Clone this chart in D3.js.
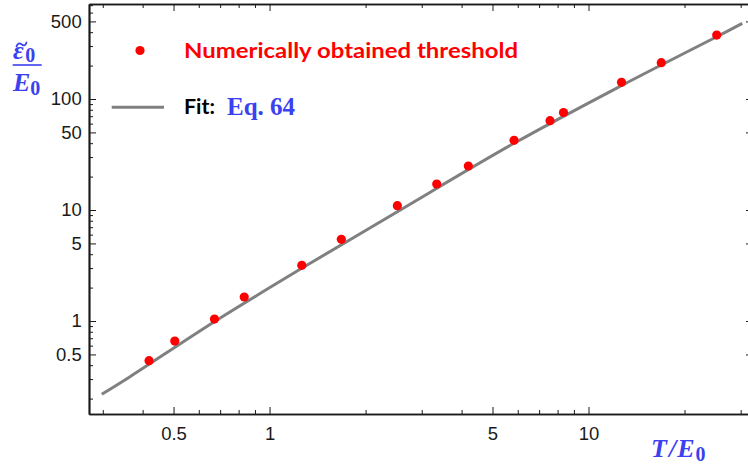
<!DOCTYPE html>
<html>
<head>
<meta charset="utf-8">
<script src="https://cdn.jsdelivr.net/npm/d3@7"></script>
<style>
  html, body { margin: 0; padding: 0; background: #fff; }
  svg { display: block; }
</style>
</head>
<body>
<svg id="chart" width="748" height="467"></svg>
<script>
// Threshold energy vs temperature (both in units of E0)
const thresholdT = [0.419, 0.5045, 0.672, 0.833, 1.262, 1.679, 2.516, 3.343, 4.200, 5.842, 7.575, 8.35, 12.69, 16.91, 25.23];
const thresholdE = [0.439, 0.660, 1.042, 1.645, 3.176, 5.445, 10.93, 17.15, 24.92, 42.46, 63.76, 75.6, 141.4, 212.3, 377];

// Fit curve (Eq. 64) sampled along T
const fitT = [0.2978, 0.3652, 0.671, 1.262, 2.516, 5.842, 12.67, 16.91, 25.23, 30.35];
const fitE = [0.2186, 0.3149, 0.9856, 2.984, 9.654, 39.9, 131.8, 202.4, 364, 480.8];

// Plot range and ticks
const xRange = [0.2716, 32.79];
const yRange = [0.1453, 717.6];
const xMajor = [0.5, 1, 5, 10];
const xMinor = [0.3, 0.4, 0.6, 0.7, 0.8, 0.9, 2, 3, 4, 6, 7, 8, 9, 20, 30];
const yMajor = [0.5, 1, 5, 10, 50, 100, 500];
const yMinor = [0.2, 0.3, 0.4, 0.6, 0.7, 0.8, 0.9, 2, 3, 4, 6, 7, 8, 9,
                20, 30, 40, 60, 70, 80, 90, 200, 300, 400, 600, 700];

const legendPoints = "Numerically obtained threshold";
const legendFit = "Fit:";
const legendEq = "Eq. 64";

const BLUE = "#3b40f0";
const RED = "#ff0000";
const GRAY = "#808080";
const AXIS = "#1a1a1a";

const svg = d3.select("#chart");
const plotLeft = 89, plotRight = 753, plotTop = 4, plotBottom = 414;

const x = d3.scaleLog().domain(xRange).range([plotLeft, plotRight]);
const y = d3.scaleLog().domain(yRange).range([plotBottom, plotTop]);

const fmt = d => String(d);
const MAJ = 7, MIN = 4;

function styleAxis(g) {
  g.select(".domain").attr("stroke", AXIS).attr("stroke-width", 1.7);
  g.selectAll(".tick line").attr("stroke", AXIS).attr("stroke-width", 1);
  g.selectAll(".tick text")
    .attr("fill", AXIS)
    .attr("font-family", "'Liberation Sans', Arial, sans-serif")
    .attr("font-size", 18.5);
}

// bottom axis with labels
svg.append("g").attr("transform", `translate(0,${plotBottom})`)
  .call(d3.axisBottom(x).tickValues(xMinor).tickSize(-MIN).tickSizeOuter(0).tickFormat(""))
  .call(styleAxis);
svg.append("g").attr("transform", `translate(0,${plotBottom})`)
  .call(d3.axisBottom(x).tickValues(xMajor).tickSize(-MAJ).tickSizeOuter(0).tickPadding(12.5).tickFormat(fmt))
  .call(styleAxis);
// top frame
svg.append("g").attr("transform", `translate(0,${plotTop})`)
  .call(d3.axisTop(x).tickValues(xMinor).tickSize(-MIN).tickSizeOuter(0).tickFormat(""))
  .call(styleAxis);
svg.append("g").attr("transform", `translate(0,${plotTop})`)
  .call(d3.axisTop(x).tickValues(xMajor).tickSize(-MAJ).tickSizeOuter(0).tickFormat(""))
  .call(styleAxis);
// left axis with labels
svg.append("g").attr("transform", `translate(${plotLeft},0)`)
  .call(d3.axisLeft(y).tickValues(yMinor).tickSize(-MIN).tickSizeOuter(0).tickFormat(""))
  .call(styleAxis);
svg.append("g").attr("transform", `translate(${plotLeft},0)`)
  .call(d3.axisLeft(y).tickValues(yMajor).tickSize(-MAJ).tickSizeOuter(0).tickPadding(7.3).tickFormat(fmt))
  .call(styleAxis);
// right frame
svg.append("g").attr("transform", `translate(${plotRight},0)`)
  .call(d3.axisRight(y).tickValues(yMinor).tickSize(-MIN).tickSizeOuter(0).tickFormat(""))
  .call(styleAxis);
svg.append("g").attr("transform", `translate(${plotRight},0)`)
  .call(d3.axisRight(y).tickValues(yMajor).tickSize(-MAJ).tickSizeOuter(0).tickFormat(""))
  .call(styleAxis);

// fit curve
const fitData = fitT.map((t, i) => [t, fitE[i]]);
const line = d3.line().x(d => x(d[0])).y(d => y(d[1])).curve(d3.curveCatmullRom.alpha(0.5));
svg.append("path")
  .datum(fitData)
  .attr("d", line)
  .attr("fill", "none")
  .attr("stroke", GRAY)
  .attr("stroke-width", 3);

// numerical thresholds
const pts = thresholdT.map((t, i) => [t, thresholdE[i]]);
svg.append("g").selectAll("circle")
  .data(pts).join("circle")
  .attr("cx", d => x(d[0]))
  .attr("cy", d => y(d[1]))
  .attr("r", 4.6)
  .attr("fill", RED);

// legend
const lg = svg.append("g");
lg.append("circle").attr("cx", 140).attr("cy", 50.5).attr("r", 4.6).attr("fill", RED);
lg.append("text").attr("x", 184).attr("y", 57.5)
  .attr("font-family", "Lato, 'Open Sans', sans-serif").attr("font-weight", "bold")
  .attr("font-size", 20).attr("fill", RED)
  .attr("textLength", 334).attr("lengthAdjust", "spacingAndGlyphs")
  .text(legendPoints);
lg.append("line").attr("x1", 111.7).attr("x2", 164).attr("y1", 107.3).attr("y2", 107.3)
  .attr("stroke", GRAY).attr("stroke-width", 3);
lg.append("text").attr("x", 184).attr("y", 114)
  .attr("font-family", "Lato, 'Open Sans', sans-serif").attr("font-weight", "bold")
  .attr("font-size", 20).attr("fill", "#000")
  .attr("textLength", 31).attr("lengthAdjust", "spacingAndGlyphs")
  .text(legendFit);
lg.append("text").attr("x", 227).attr("y", 115)
  .attr("font-family", "'Liberation Serif', 'Times New Roman', serif").attr("font-weight", "bold")
  .attr("font-size", 25).attr("fill", BLUE)
  .text(legendEq);

// y axis label: tilde-epsilon_0 over E_0
const serif = "'Liberation Serif', 'Times New Roman', serif";
const yl = svg.append("g").attr("fill", BLUE).attr("font-family", serif)
  .attr("font-weight", "bold").attr("font-style", "italic");
const num = yl.append("text").attr("x", 13).attr("y", 58.5).attr("font-size", 26);
num.append("tspan").text("ε");
num.append("tspan").attr("font-size", 20).attr("font-style", "normal").attr("dy", 3.5).attr("dx", 1.5).text("0");
// tilde accent over epsilon
svg.append("path")
  .attr("d", "M16.5,46.5 C17.5,43 19.5,42.8 21.5,44.3 C23.5,45.8 25.5,46 26.5,42.5")
  .attr("fill", "none").attr("stroke", BLUE).attr("stroke-width", 1.8).attr("stroke-linecap", "round");
svg.append("line").attr("x1", 12.7).attr("x2", 41.7).attr("y1", 65).attr("y2", 65)
  .attr("stroke", BLUE).attr("stroke-width", 1.6);
const den = yl.append("text").attr("x", 13).attr("y", 90.7).attr("font-size", 26);
den.append("tspan").text("E");
den.append("tspan").attr("font-size", 20).attr("font-style", "normal").attr("dy", 4).text("0");

// x axis label: T/E_0
const xl = svg.append("text").attr("x", 651).attr("y", 457.3)
  .attr("fill", BLUE).attr("font-family", serif)
  .attr("font-weight", "bold").attr("font-style", "italic").attr("font-size", 26);
xl.append("tspan").text("T");
xl.append("tspan").attr("dx", 2).text("/");
xl.append("tspan").attr("dx", 1).text("E");
xl.append("tspan").attr("font-size", 20).attr("font-style", "normal").attr("dy", 4).attr("dx", 1).text("0");
</script>
</body>
</html>
